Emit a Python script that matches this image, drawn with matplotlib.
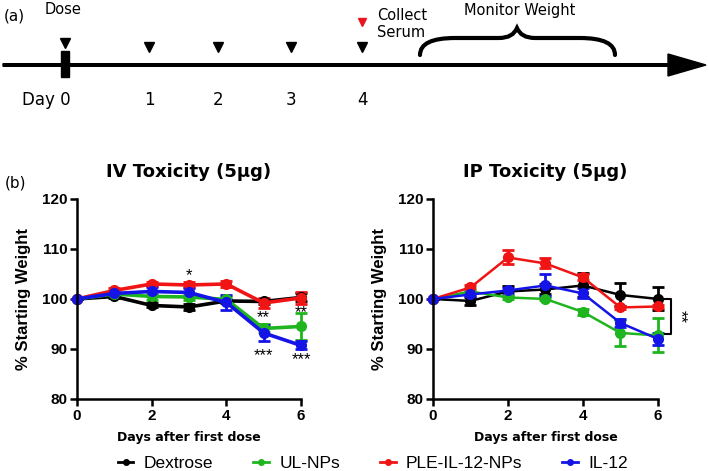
import numpy as np
import matplotlib.pyplot as plt
from matplotlib.path import Path
from matplotlib.patches import PathPatch, FancyArrow

days = [0, 1, 2, 3, 4, 5, 6]
groups = ['Dextrose', 'UL-NPs', 'PLE-IL-12-NPs', 'IL-12']
colors = ['#000000', '#1fb51f', '#f01414', '#1414e6']

# IV toxicity, % starting weight
iv_mean = {
    'Dextrose':      [100, 100.5, 98.7, 98.4, 99.6, 99.5, 100.3],
    'UL-NPs':        [100, 101.0, 100.5, 100.4, 99.9, 94.1, 94.5],
    'PLE-IL-12-NPs': [100, 101.7, 103.0, 102.8, 103.0, 99.2, 100.2],
    'IL-12':         [100, 101.1, 101.5, 101.3, 99.3, 93.2, 90.7],
}
iv_err = {
    'Dextrose':      [0, 0.4, 0.4, 0.6, 0.4, 0.5, 0.8],
    'UL-NPs':        [0, 0.4, 0.8, 0.6, 0.6, 0.8, 2.7],
    'PLE-IL-12-NPs': [0, 0.4, 0.4, 0.5, 0.6, 1.0, 1.2],
    'IL-12':         [0, 0.4, 0.8, 0.9, 1.5, 1.6, 0.8],
}
# IP toxicity
ip_mean = {
    'Dextrose':      [100, 99.6, 101.5, 101.9, 102.7, 100.8, 100.0],
    'UL-NPs':        [100, 101.5, 100.3, 100.0, 97.4, 93.2, 92.7],
    'PLE-IL-12-NPs': [100, 102.3, 108.3, 107.1, 104.3, 98.3, 98.5],
    'IL-12':         [100, 100.9, 101.7, 102.7, 101.1, 95.2, 92.0],
}
ip_err = {
    'Dextrose':      [0, 0.8, 1.0, 1.0, 2.4, 2.3, 2.3],
    'UL-NPs':        [0, 0.6, 0.3, 0.3, 0.6, 2.6, 3.4],
    'PLE-IL-12-NPs': [0, 0.5, 1.4, 1.0, 0.6, 0.3, 0.3],
    'IL-12':         [0, 0.4, 0.5, 2.2, 1.0, 0.8, 1.2],
}

# timeline schematic (pixel layout)
tl_days = ['Day 0', '1', '2', '3', '4']
tl_x = [65, 149, 218, 291, 362]

plt.rcParams['font.family'] = ['Liberation Sans', 'DejaVu Sans']
fig = plt.figure(figsize=(7.09, 4.71), dpi=100)
dv = 'DejaVu Sans'

# ---- panel (a) ----
ax0 = fig.add_axes([0, 0, 1, 1], zorder=0)
ax0.set_xlim(0, 709)
ax0.set_ylim(471, 0)
ax0.axis('off')
ax0.text(4, 16, '(a)', fontsize=11, va='center', family=dv)
ax0.add_patch(FancyArrow(3, 65, 665, 0, width=2.6, head_width=22, head_length=38,
                         length_includes_head=False, color='black'))
ax0.add_patch(plt.Rectangle((tl_x[0] - 4, 51), 8, 26, color='black'))
ax0.text(tl_x[0] - 2, 10, 'Dose', fontsize=10.5, ha='center', va='center', family=dv)
for i, x in enumerate(tl_x):
    ytop = 38 if i == 0 else 42
    ax0.plot([x], [ytop + 5], marker='v', markersize=7, color='black')
    lx = x + 6 if i == 0 else x
    ax0.text(lx, 100, tl_days[i], fontsize=12, ha='right' if i == 0 else 'center',
             va='center', family=dv)
ax0.plot([tl_x[-1]], [22], marker='v', markersize=6, color='#e8141e')
ax0.text(377, 24, 'Collect\nSerum', fontsize=10.5, ha='left', va='center',
         linespacing=1.2, family=dv)
ax0.text(520, 10, 'Monitor Weight', fontsize=10.5, ha='center', va='center', family=dv)
# curly brace
bx0, bx1, bm = 420, 615, 517
verts = [(bx0, 55), (bx0, 38), (bx0 + 35, 38),
         (bm - 30, 38), (bm - 18, 38), (bm - 4, 38), (bm, 28),
         (bm + 4, 38), (bm + 18, 38), (bm + 30, 38),
         (bx1 - 35, 38), (bx1, 38), (bx1, 55)]
codes = [Path.MOVETO, Path.CURVE3, Path.CURVE3,
         Path.LINETO, Path.LINETO, Path.CURVE3, Path.CURVE3,
         Path.CURVE3, Path.CURVE3, Path.LINETO,
         Path.LINETO, Path.CURVE3, Path.CURVE3]
ax0.add_patch(PathPatch(Path(verts, codes), fill=False, lw=3, capstyle='round'))

# ---- panel (b) ----
fig.text(0.006, 1 - 183 / 471, '(b)', fontsize=11, va='center', family=dv)


def panel(rect, title, means, errs, lw):
    ax = fig.add_axes(rect)
    for g, c in zip(groups, colors):
        ax.errorbar(days, means[g], yerr=errs[g], color=c, lw=lw, marker='o',
                    markersize=7, capsize=4, capthick=2, elinewidth=2, clip_on=False)
    ax.set_xlim(0, 6)
    ax.set_ylim(80, 120)
    ax.set_xticks([0, 2, 4, 6])
    ax.set_yticks([80, 90, 100, 110, 120])
    for s in ['top', 'right']:
        ax.spines[s].set_visible(False)
    for s in ['left', 'bottom']:
        ax.spines[s].set_linewidth(1.8)
    ax.tick_params(width=1.8, length=5, labelsize=11, pad=2)
    for lab in ax.get_xticklabels() + ax.get_yticklabels():
        lab.set_fontweight('bold')
    ax.set_ylabel('% Starting Weight', fontsize=12, fontweight='bold', labelpad=8)
    ax.set_xlabel('Days after first dose', fontsize=9, fontweight='bold',
                  family='Liberation Sans Narrow', labelpad=6)
    ax.set_title(title, fontsize=13, fontweight='bold', pad=16, family=dv)
    return ax


ax1 = panel([0.1086, 0.153, 0.316, 0.4245], 'IV Toxicity (5µg)', iv_mean, iv_err, 2.6)
ax2 = panel([0.6107, 0.153, 0.3173, 0.4245], 'IP Toxicity (5µg)', ip_mean, ip_err, 1.8)

star_kw = dict(ha='center', va='center', fontsize=12)
ax1.text(3, 104.6, '*', **star_kw)
ax1.text(5, 96.2, '**', **star_kw)
ax1.text(5, 88.7, '***', **star_kw)
ax1.text(6, 97.2, '**', **star_kw)
ax1.text(6, 87.8, '***', **star_kw)

ax2.plot([6.15, 6.35, 6.35, 6.15], [100, 100, 93, 93], color='black', lw=1.5, clip_on=False)
ax2.text(6.58, 96.5, '**', rotation=-90, ha='center', va='center', fontsize=12)

handles = [plt.Line2D([], [], color=c, marker='o', markersize=4, lw=2) for c in colors]
fig.legend(handles, groups, loc='center', bbox_to_anchor=(0.526, 1 - 463 / 471), ncol=4,
           frameon=False, handlelength=0.9, columnspacing=2.3,
           handletextpad=0.6, prop={'family': 'Liberation Sans', 'size': 12.5})

fig.savefig('out.png', dpi=100)
